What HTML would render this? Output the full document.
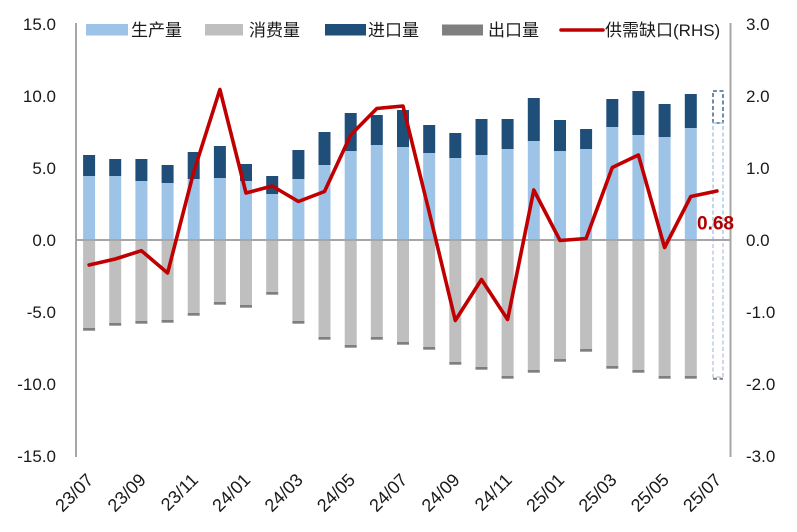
<!DOCTYPE html>
<html>
<head>
<meta charset="utf-8">
<style>
html,body{margin:0;padding:0;background:#fff;}
svg{display:block;}
text{font-family:"Liberation Sans","Noto Sans CJK SC",sans-serif;fill:#1a1a1a;}
</style>
</head>
<body>
<svg width="797" height="532" viewBox="0 0 797 532" xmlns="http://www.w3.org/2000/svg">
<rect width="797" height="532" fill="#fff"/>

<!-- production -->
<g fill="#9dc3e6">
<rect x="83.1" y="176" width="12" height="64"/>
<rect x="109.2" y="176" width="12" height="64"/>
<rect x="135.4" y="181" width="12" height="59"/>
<rect x="161.6" y="183" width="12" height="57"/>
<rect x="187.7" y="179" width="12" height="61"/>
<rect x="213.9" y="178" width="12" height="62"/>
<rect x="240.0" y="181" width="12" height="59"/>
<rect x="266.2" y="194" width="12" height="46"/>
<rect x="292.4" y="179" width="12" height="61"/>
<rect x="318.5" y="165" width="12" height="75"/>
<rect x="344.7" y="151" width="12" height="89"/>
<rect x="370.8" y="145" width="12" height="95"/>
<rect x="397.0" y="147" width="12" height="93"/>
<rect x="423.2" y="153" width="12" height="87"/>
<rect x="449.3" y="158" width="12" height="82"/>
<rect x="475.5" y="155" width="12" height="85"/>
<rect x="501.6" y="149" width="12" height="91"/>
<rect x="527.8" y="141" width="12" height="99"/>
<rect x="554.0" y="151" width="12" height="89"/>
<rect x="580.1" y="149" width="12" height="91"/>
<rect x="606.3" y="127" width="12" height="113"/>
<rect x="632.4" y="135" width="12" height="105"/>
<rect x="658.6" y="137" width="12" height="103"/>
<rect x="684.8" y="128" width="12" height="112"/>
</g>
<!-- import -->
<g fill="#1f4e79">
<rect x="83.1" y="155" width="12" height="21"/>
<rect x="109.2" y="159" width="12" height="17"/>
<rect x="135.4" y="159" width="12" height="22"/>
<rect x="161.6" y="165" width="12" height="18"/>
<rect x="187.7" y="152" width="12" height="27"/>
<rect x="213.9" y="146" width="12" height="32"/>
<rect x="240.0" y="164" width="12" height="17"/>
<rect x="266.2" y="176" width="12" height="18"/>
<rect x="292.4" y="150" width="12" height="29"/>
<rect x="318.5" y="132" width="12" height="33"/>
<rect x="344.7" y="113" width="12" height="38"/>
<rect x="370.8" y="115" width="12" height="30"/>
<rect x="397.0" y="110" width="12" height="37"/>
<rect x="423.2" y="125" width="12" height="28"/>
<rect x="449.3" y="133" width="12" height="25"/>
<rect x="475.5" y="119" width="12" height="36"/>
<rect x="501.6" y="119" width="12" height="30"/>
<rect x="527.8" y="98" width="12" height="43"/>
<rect x="554.0" y="120" width="12" height="31"/>
<rect x="580.1" y="129" width="12" height="20"/>
<rect x="606.3" y="99" width="12" height="28"/>
<rect x="632.4" y="91" width="12" height="44"/>
<rect x="658.6" y="104" width="12" height="33"/>
<rect x="684.8" y="94" width="12" height="34"/>
</g>
<!-- consumption -->
<g fill="#bfbfbf">
<rect x="83.1" y="240" width="12" height="88"/>
<rect x="109.2" y="240" width="12" height="83"/>
<rect x="135.4" y="240" width="12" height="81"/>
<rect x="161.6" y="240" width="12" height="80"/>
<rect x="187.7" y="240" width="12" height="73"/>
<rect x="213.9" y="240" width="12" height="62"/>
<rect x="240.0" y="240" width="12" height="65"/>
<rect x="266.2" y="240" width="12" height="52"/>
<rect x="292.4" y="240" width="12" height="81"/>
<rect x="318.5" y="240" width="12" height="97"/>
<rect x="344.7" y="240" width="12" height="105"/>
<rect x="370.8" y="240" width="12" height="97"/>
<rect x="397.0" y="240" width="12" height="102"/>
<rect x="423.2" y="240" width="12" height="107"/>
<rect x="449.3" y="240" width="12" height="122"/>
<rect x="475.5" y="240" width="12" height="127"/>
<rect x="501.6" y="240" width="12" height="136"/>
<rect x="527.8" y="240" width="12" height="130"/>
<rect x="554.0" y="240" width="12" height="119"/>
<rect x="580.1" y="240" width="12" height="109"/>
<rect x="606.3" y="240" width="12" height="126"/>
<rect x="632.4" y="240" width="12" height="130"/>
<rect x="658.6" y="240" width="12" height="136"/>
<rect x="684.8" y="240" width="12" height="136"/>
</g>
<!-- export -->
<g fill="#7f7f7f">
<rect x="83.1" y="328" width="12" height="2.7"/>
<rect x="109.2" y="323" width="12" height="2.7"/>
<rect x="135.4" y="321" width="12" height="2.7"/>
<rect x="161.6" y="320" width="12" height="2.7"/>
<rect x="187.7" y="313" width="12" height="2.7"/>
<rect x="213.9" y="302" width="12" height="2.7"/>
<rect x="240.0" y="305" width="12" height="2.7"/>
<rect x="266.2" y="292" width="12" height="2.7"/>
<rect x="292.4" y="321" width="12" height="2.7"/>
<rect x="318.5" y="337" width="12" height="2.7"/>
<rect x="344.7" y="345" width="12" height="2.7"/>
<rect x="370.8" y="337" width="12" height="2.7"/>
<rect x="397.0" y="342" width="12" height="2.7"/>
<rect x="423.2" y="347" width="12" height="2.7"/>
<rect x="449.3" y="362" width="12" height="2.7"/>
<rect x="475.5" y="367" width="12" height="2.7"/>
<rect x="501.6" y="376" width="12" height="2.7"/>
<rect x="527.8" y="370" width="12" height="2.7"/>
<rect x="554.0" y="359" width="12" height="2.7"/>
<rect x="580.1" y="349" width="12" height="2.7"/>
<rect x="606.3" y="366" width="12" height="2.7"/>
<rect x="632.4" y="370" width="12" height="2.7"/>
<rect x="658.6" y="376" width="12" height="2.7"/>
<rect x="684.8" y="376" width="12" height="2.7"/>
</g>

<!-- dashed forecast bar 25/07 -->
<g fill="none" stroke-width="1.3" stroke-dasharray="4,2.5">
<rect x="713" y="91" width="10" height="32" stroke="#1f4e79"/>
<rect x="713" y="123" width="10" height="117" stroke="#9dc3e6"/>
<rect x="713" y="240" width="10" height="137" stroke="#b4c4d8"/>
<line x1="713" y1="378.8" x2="723" y2="378.8" stroke="#7f7f7f" stroke-width="2"/>
</g>

<!-- zero line & axes -->
<line x1="76" y1="240" x2="730" y2="240" stroke="#a6a6a6" stroke-width="2"/>
<line x1="76" y1="23" x2="76" y2="457" stroke="#a6a6a6" stroke-width="2"/>
<line x1="730.5" y1="23" x2="730.5" y2="457" stroke="#a6a6a6" stroke-width="2"/>

<!-- gap line -->
<polyline fill="none" stroke="#c00000" stroke-width="3.6" stroke-linejoin="round" stroke-linecap="round"
points="89.1,265 115.2,259 141.4,250.7 167.6,273 193.7,172 219.9,89.5 246,193 272.2,186 298.4,201.5 324.5,191.5 350.7,135 376.8,108.5 403,106 429.2,212 455.3,320.5 481.5,279.5 507.6,319.5 533.8,190 560,240.5 586.1,238.5 612.3,167.5 638.4,155 664.6,247.5 690.8,196.5 716.9,191"/>

<text x="697" y="229.5" font-size="19" font-weight="bold" style="fill:#b00000">0.68</text>

<!-- left axis labels -->
<g font-size="17" text-anchor="end">
<text x="56" y="30">15.0</text>
<text x="56" y="102">10.0</text>
<text x="56" y="174">5.0</text>
<text x="56" y="246">0.0</text>
<text x="56" y="318">-5.0</text>
<text x="56" y="390">-10.0</text>
<text x="56" y="462">-15.0</text>
</g>
<!-- right axis labels -->
<g font-size="17">
<text x="746" y="30">3.0</text>
<text x="746" y="102">2.0</text>
<text x="746" y="174">1.0</text>
<text x="746" y="246">0.0</text>
<text x="746" y="318">-1.0</text>
<text x="746" y="390">-2.0</text>
<text x="746" y="462">-3.0</text>
</g>

<!-- x labels -->
<g font-size="18" text-anchor="end">
<text transform="translate(94.5,481) rotate(-45)">23/07</text>
<text transform="translate(146.9,481) rotate(-45)">23/09</text>
<text transform="translate(199.2,481) rotate(-45)">23/11</text>
<text transform="translate(251.5,481) rotate(-45)">24/01</text>
<text transform="translate(303.9,481) rotate(-45)">24/03</text>
<text transform="translate(356.2,481) rotate(-45)">24/05</text>
<text transform="translate(408.5,481) rotate(-45)">24/07</text>
<text transform="translate(460.8,481) rotate(-45)">24/09</text>
<text transform="translate(513.1,481) rotate(-45)">24/11</text>
<text transform="translate(565.5,481) rotate(-45)">25/01</text>
<text transform="translate(617.8,481) rotate(-45)">25/03</text>
<text transform="translate(670.1,481) rotate(-45)">25/05</text>
<text transform="translate(722.4,481) rotate(-45)">25/07</text>
</g>

<!-- legend -->
<g font-size="17">
<rect x="86" y="24" width="42" height="11.5" fill="#9dc3e6"/>
<text x="131" y="36">生产量</text>
<rect x="205" y="24" width="38" height="11.5" fill="#bfbfbf"/>
<text x="249" y="36">消费量</text>
<rect x="325" y="24" width="41" height="11.5" fill="#1f4e79"/>
<text x="368" y="36">进口量</text>
<rect x="442" y="24.5" width="41" height="11" fill="#7f7f7f"/>
<text x="488" y="36">出口量</text>
<line x1="561" y1="30" x2="603" y2="30" stroke="#c00000" stroke-width="3.6" stroke-linecap="round"/>
<text x="605" y="36">供需缺口(RHS)</text>
</g>
</svg>
</body>
</html>
